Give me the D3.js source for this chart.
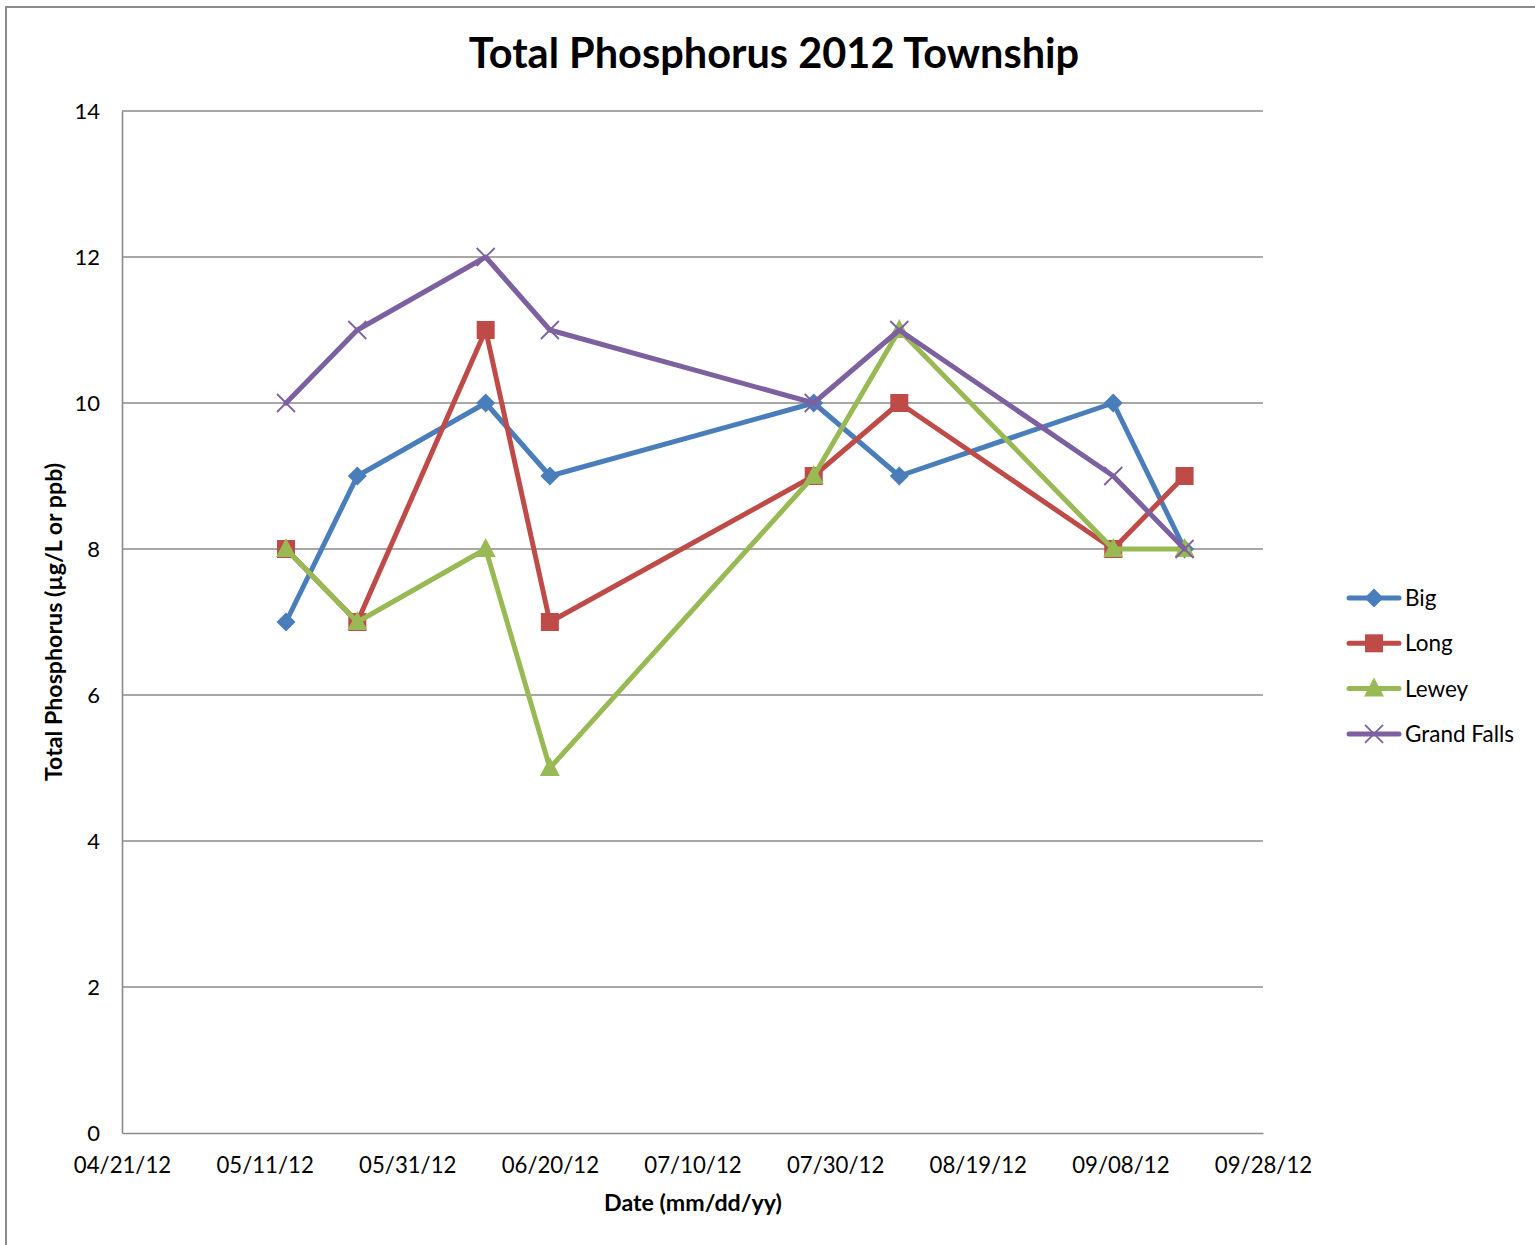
<!DOCTYPE html>
<html>
<head>
<meta charset="utf-8">
<script src="https://cdn.jsdelivr.net/npm/d3@7"></script>
<style>
  html, body { margin: 0; padding: 0; background: #fff; }
  svg { display: block; }
  text { font-family: Lato, "Open Sans", sans-serif; fill: #000; }
</style>
</head>
<body>
<svg id="chart" width="1535" height="1245"></svg>
<script>
// Sampling dates (mm/dd/yy) and total phosphorus readings (µg/L)
const sampleDates = ["05/14/12", "05/24/12", "06/11/12", "06/20/12", "07/27/12", "08/08/12", "09/07/12", "09/17/12"];
const seriesNames = ["Big", "Long", "Lewey", "Grand Falls"];
const bigValues = [7, 9, 10, 9, 10, 9, 10, 8];
const longValues = [8, 7, 11, 7, 9, 10, 8, 9];
const leweyValues = [8, 7, 8, 5, 9, 11, 8, 8];
const grandFallsValues = [10, 11, 12, 11, 10, 11, 9, 8];
const xTickLabels = ["04/21/12", "05/11/12", "05/31/12", "06/20/12", "07/10/12", "07/30/12", "08/19/12", "09/08/12", "09/28/12"];
const yTicks = [0, 2, 4, 6, 8, 10, 12, 14];

const parse = d3.utcParse("%m/%d/%y");
const fmt = d3.utcFormat("%m/%d/%y");

const series = [
  { name: seriesNames[0], values: bigValues, color: "#4A7EBB", marker: "diamond" },
  { name: seriesNames[1], values: longValues, color: "#BE4B48", marker: "square" },
  { name: seriesNames[2], values: leweyValues, color: "#98B954", marker: "triangle" },
  { name: seriesNames[3], values: grandFallsValues, color: "#7D60A0", marker: "cross" }
];

const svg = d3.select("#chart");
const plot = { left: 122, right: 1263, top: 111, bottom: 1133 };

// Chart frame
svg.append("rect")
  .attr("x", 6).attr("y", 7)
  .attr("width", 1560).attr("height", 1260)
  .attr("fill", "none").attr("stroke", "#8c8c8c").attr("stroke-width", 2);

const x = d3.scaleUtc()
  .domain([parse(xTickLabels[0]), parse(xTickLabels[xTickLabels.length - 1])])
  .range([plot.left, plot.right]);
const y = d3.scaleLinear().domain([0, 14]).range([plot.bottom, plot.top]);

// Horizontal gridlines
svg.append("g")
  .selectAll("line")
  .data(yTicks.filter(d => d > 0))
  .join("line")
  .attr("x1", plot.left).attr("x2", plot.right)
  .attr("y1", d => y(d)).attr("y2", d => y(d))
  .attr("stroke", "#8a8a8a").attr("stroke-width", 1.6);

// Y axis
const yAxis = svg.append("g")
  .attr("transform", `translate(${plot.left},0)`)
  .call(d3.axisLeft(y).tickValues(yTicks).tickSize(0).tickPadding(22).tickFormat(d3.format("d")));
yAxis.select(".domain").attr("stroke", "#8a8a8a").attr("stroke-width", 1.6);
yAxis.selectAll("text").style("font-family", "Lato, sans-serif").style("font-size", "22px").attr("fill", "#000");

// X axis
const xAxis = svg.append("g")
  .attr("transform", `translate(0,${plot.bottom})`)
  .call(d3.axisBottom(x).tickValues(xTickLabels.map(parse)).tickSize(0).tickPadding(24).tickFormat(fmt));
xAxis.select(".domain").attr("stroke", "#8a8a8a").attr("stroke-width", 1.6);
xAxis.selectAll("text").style("font-family", "Lato, sans-serif").style("font-size", "22.2px").attr("fill", "#000");

// Titles
svg.append("text")
  .attr("x", 774).attr("y", 68)
  .attr("text-anchor", "middle")
  .style("font-size", "41.5px").style("font-weight", "bold")
  .text("Total Phosphorus 2012 Township");

svg.append("text")
  .attr("x", 693).attr("y", 1211)
  .attr("text-anchor", "middle")
  .style("font-size", "23.2px").style("font-weight", "bold")
  .text("Date (mm/dd/yy)");

svg.append("text")
  .attr("transform", "translate(62,622) rotate(-90)")
  .attr("text-anchor", "middle")
  .style("font-size", "23.2px").style("font-weight", "bold")
  .text("Total Phosphorus  (µg/L or ppb)");

// Marker drawing
function drawMarker(g, type, color) {
  if (type === "diamond") {
    g.append("path").attr("d", "M0,-9.5L9.5,0L0,9.5L-9.5,0Z").attr("fill", color);
  } else if (type === "square") {
    g.append("rect").attr("x", -9).attr("y", -9).attr("width", 18).attr("height", 18).attr("fill", color);
  } else if (type === "triangle") {
    g.append("path").attr("d", "M0,-11L10,8L-10,8Z").attr("fill", color);
  } else if (type === "cross") {
    g.append("path").attr("d", "M-9,-9L9,9M-9,9L9,-9").attr("stroke", color).attr("stroke-width", 1.8).attr("fill", "none");
  }
}

const line = d3.line()
  .x((d, i) => x(parse(sampleDates[i])))
  .y(d => y(d));

series.forEach(s => {
  const g = svg.append("g");
  g.append("path")
    .attr("d", line(s.values))
    .attr("fill", "none")
    .attr("stroke", s.color)
    .attr("stroke-width", 5)
    .attr("stroke-linejoin", "round")
    .attr("stroke-linecap", "round");
  s.values.forEach((v, i) => {
    const m = g.append("g").attr("transform", `translate(${x(parse(sampleDates[i]))},${y(v)})`);
    drawMarker(m, s.marker, s.color);
  });
});

// Legend
const legend = svg.append("g");
series.forEach((s, i) => {
  const ly = 598 + i * 45.3;
  const item = legend.append("g").attr("transform", `translate(0,${ly})`);
  item.append("line")
    .attr("x1", 1349).attr("x2", 1399)
    .attr("stroke", s.color).attr("stroke-width", 5).attr("stroke-linecap", "round");
  const m = item.append("g").attr("transform", "translate(1374,0)");
  drawMarker(m, s.marker, s.color);
  item.append("text")
    .attr("x", 1405).attr("y", 8)
    .style("font-size", "22.5px")
    .text(s.name);
});
</script>
</body>
</html>
